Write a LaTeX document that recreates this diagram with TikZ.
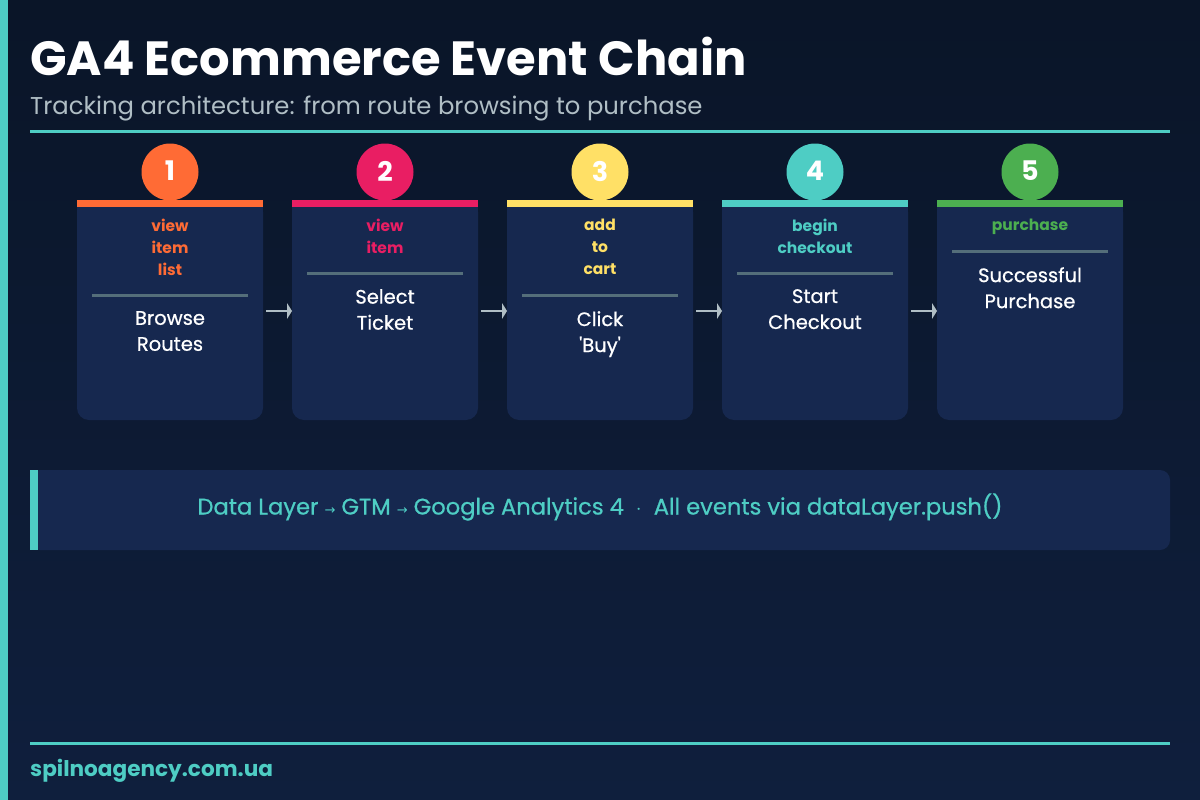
\documentclass[tikz,border=0pt]{standalone}
\usepackage{fontspec}
\setmainfont{Poppins}
\newfontfamily\medf[FakeBold=0.7]{Poppins}
\newfontfamily\symf{DejaVu Sans}
\definecolor{bgtop}{HTML}{0A1528}
\definecolor{bgbot}{HTML}{0F1F3D}
\definecolor{teal}{HTML}{4ECDC4}
\definecolor{cardbg}{HTML}{16284F}
\definecolor{sepc}{HTML}{546E7A}
\definecolor{arrc}{HTML}{B0BEC5}
\definecolor{subc}{HTML}{B0BEC5}
\definecolor{cA}{HTML}{FF6B35}
\definecolor{cB}{HTML}{E91E63}
\definecolor{cC}{HTML}{FFE066}
\definecolor{cD}{HTML}{4ECDC4}
\definecolor{cE}{HTML}{4CAF50}
\begin{document}
\begin{tikzpicture}[x=1pt,y=-1pt,
  evt/.style={font=\fontsize{15.5}{22}\selectfont\bfseries, align=center, anchor=north, inner sep=0pt},
  desc/.style={font=\medf\fontsize{19.5}{26}\selectfont, text=white, align=center, anchor=north, inner sep=0pt},
  num/.style={font=\fontsize{27}{27}\selectfont\bfseries, text=white},
  conn/.style={draw=arrc, line width=2.5pt}]
\useasboundingbox (0,0) rectangle (1200,800);
\shade[top color=bgtop, bottom color=bgbot] (0,0) rectangle (1200,800);
\fill[teal] (0,0) rectangle (8,800);
\node[anchor=base west, inner sep=0pt, text=white, font=\fontsize{48}{48}\selectfont\bfseries] (title) at (30,75) {GA4 Ecommerce Event Chain};
\node[anchor=base west, inner sep=0pt, text=subc, font=\fontsize{24.3}{24}\selectfont] (sub) at (30,114) {Tracking architecture: from route browsing to purchase};
\fill[teal] (30,129.5) rectangle (1170,132.5);
% cards
\foreach \i/\c/\n/\ev/\nl/\ds in {0/cA/1/{view\\item\\list}/3/{Browse\\Routes},1/cB/2/{view\\item}/2/{Select\\Ticket},2/cC/3/{add\\to\\cart}/3/{Click\\\textquotesingle Buy\textquotesingle},3/cD/4/{begin\\checkout}/2/{Start\\Checkout},4/cE/5/{purchase}/1/{Successful\\Purchase}}{
  \pgfmathsetmacro{\xl}{77+215*\i}
  \pgfmathsetmacro{\xc}{\xl+93}
  \pgfmathsetmacro{\sy}{229+22*\nl}
  \fill[cardbg, rounded corners=12pt] (\xl,200) rectangle (\xl+186,420);
  \fill[cardbg] (\xl,200) rectangle (\xl+186,230);
  \fill[\c] (\xc,172) circle (28.5);
  \node[num] (n\n) at (\xc,171) {\n};
  \fill[\c] (\xl,200) rectangle (\xl+186,207);
  \node[evt, text=\c] (e\n) at (\xc,219) {\ev};
  \fill[sepc] (\xl+15,\sy-1.5) rectangle (\xl+171,\sy+1.5);
  \node[desc] (d\n) at (\xc,\sy+16) {\ds};
}
\foreach \i in {0,1,2,3}{
  \pgfmathsetmacro{\xa}{266+215*\i}
  \coordinate (s\i) at (\xa,311);
  \coordinate (t\i) at (\xa+22,311);
  \draw[conn] (s\i) -- (t\i);
  \fill[arrc] (\xa+21,303) -- (\xa+26,311) -- (\xa+21,319) -- cycle;
}
% info box
\fill[cardbg, rounded corners=10pt] (30,470) rectangle (1170,550);
\fill[teal] (30,470) rectangle (38,550);
\node[text=teal, font=\medf\fontsize{22.6}{23}\selectfont, inner sep=0pt] (info) at (600,507) {Data Layer {\symf\fontsize{13}{13}\selectfont→} GTM {\symf\fontsize{13}{13}\selectfont→} Google Analytics 4 \ $\cdot$\ \ All events via dataLayer.push()};
\fill[teal] (30,741.5) rectangle (1170,744.5);
\node[anchor=base west, inner sep=0pt, text=teal, font=\fontsize{21.6}{22}\selectfont\bfseries] (foot) at (30,776) {spilnoagency.com.ua};
\end{tikzpicture}
\end{document}
